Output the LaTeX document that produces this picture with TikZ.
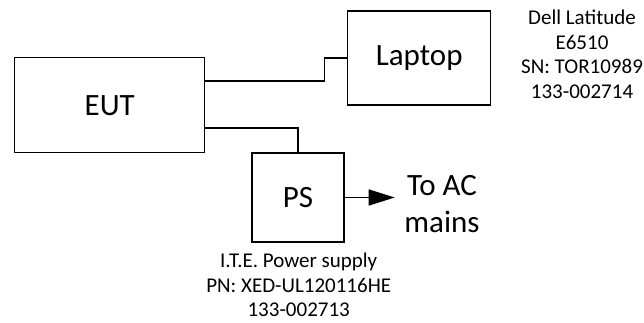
\documentclass[tikz,border=0pt]{standalone}
\usepackage{fontspec}
\setmainfont{Carlito}
\usepackage{tikz}
\usetikzlibrary{arrows.meta, positioning, calc}

\begin{document}
\begin{tikzpicture}[x=1pt, y=-1pt, line width=1.5pt,
  unit/.style={draw, rectangle, inner sep=0pt, font=\fontsize{31}{37}\selectfont},
  note/.style={align=center, inner sep=0pt, font=\fontsize{21}{24.5}\selectfont}]
  \useasboundingbox (0,0) rectangle (644,322);
  \node[unit, minimum width=190pt, minimum height=95pt] (eut) at (109.7, 105.2) {EUT};
  \node[unit, minimum width=143pt, minimum height=94pt] (laptop) at (419.2, 58) {Laptop};
  \node[unit, minimum width=92pt, minimum height=89pt] (ps) at (298, 197.5) {PS};
  \node[note] (dell) at (582, 54.2) {Dell Latitude\\E6510\\SN: TOR10989\\133-002714};
  \node[note] (ite) at (298.7, 285) {I.T.E. Power supply\\PN: XED-UL120116HE\\133-002713};
  \node[align=center, inner sep=9pt, font=\fontsize{31}{37}\selectfont] (ac) at (442, 204.5) {To AC\\mains};
  \draw ([yshift=24pt]eut.east) -- ++(119,0) |- (laptop.west);
  \draw ([yshift=-23pt]eut.east) -| (ps.north);
  \draw[-{Triangle[length=26pt, width=16pt]}] (ps.east) -- (ps.east -| ac.west);
\end{tikzpicture}
\end{document}
